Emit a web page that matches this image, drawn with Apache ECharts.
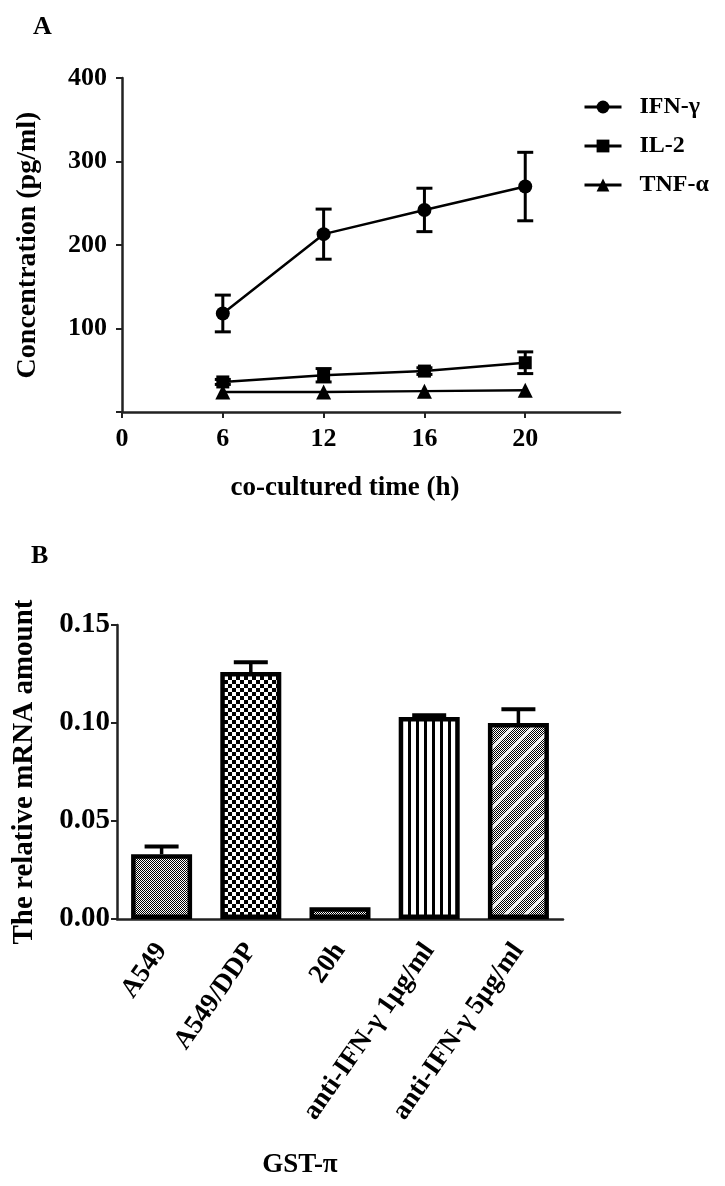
<!DOCTYPE html>
<html>
<head>
<meta charset="utf-8">
<script src="https://cdn.jsdelivr.net/npm/echarts@6/dist/echarts.min.js"></script>
<style>html,body{margin:0;padding:0;background:#fff;}#chart{width:725px;height:1186px;}</style>
</head>
<body>
<div id="chart"></div>
<script>
// ---- Panel A data ----
const timeTickLabels = ['0', '6', '12', '16', '20'];
const timePoints = ['6', '12', '16', '20'];
const ifnMean = [118, 213, 242, 270];
const ifnErr = [22, 30, 26, 41];
const il2Mean = [36, 44, 49, 59];
const il2Err = [3, 8, 4, 13];
const tnfMean = [24, 24, 25, 26];
const tnfErr = [0, 0, 0, 0];
const concTicks = [0, 100, 200, 300, 400];

// ---- Panel B data ----
const groups = ['A549', 'A549/DDP', '20h', 'anti-IFN-\u03b3 1\u03bcg/ml', 'anti-IFN-\u03b3 5\u03bcg/ml'];
const mrnaMean = [0.033, 0.126, 0.006, 0.103, 0.100];
const mrnaErr = [0.004, 0.005, 0.000, 0.001, 0.007];

const FONT = '"Liberation Serif", "Times New Roman", serif';

function makePattern(w, h, draw) {
  const c = document.createElement('canvas');
  c.width = w; c.height = h;
  const ctx = c.getContext('2d');
  ctx.fillStyle = '#fff';
  ctx.fillRect(0, 0, w, h);
  ctx.fillStyle = '#000';
  draw(ctx);
  return { image: c, repeat: 'repeat' };
}
const fineChecker = makePattern(2, 2, ctx => { ctx.fillRect(0, 0, 1, 1); ctx.fillRect(1, 1, 1, 1); });
const bigChecker = makePattern(8, 8, ctx => { ctx.fillRect(0, 0, 4, 4); ctx.fillRect(4, 4, 4, 4); });
const vStripes = makePattern(8, 8, ctx => { ctx.fillRect(0, 0, 3, 8); });
const diagHatch = makePattern(20, 20, ctx => {
  for (let y = 0; y < 20; y++) for (let x = 0; x < 20; x++) if ((x + y) % 2 === 0) ctx.fillRect(x, y, 1, 1);
  ctx.strokeStyle = '#fff'; ctx.lineWidth = 2;
  ctx.beginPath(); ctx.moveTo(-2, 22); ctx.lineTo(22, -2); ctx.stroke();
  ctx.beginPath(); ctx.moveTo(-22, 22); ctx.lineTo(2, -2); ctx.stroke();
  ctx.beginPath(); ctx.moveTo(18, 22); ctx.lineTo(42, -2); ctx.stroke();
});
const barPatterns = [fineChecker, bigChecker, fineChecker, vStripes, diagHatch];

const xIdx = t => timeTickLabels.indexOf(t);
const linePts = arr => timePoints.map((t, i) => [xIdx(t), arr[i]]);
const errPts = (m, e) => timePoints.map((t, i) => [xIdx(t), m[i], e[i]]);

function errBarA(params, api) {
  const e = api.value(2);
  if (!e) return null;
  const x = api.value(0), m = api.value(1);
  const top = api.coord([x, m + e]);
  const bot = api.coord([x, m - e]);
  const hw = 8;
  const st = { stroke: '#000', lineWidth: 3 };
  return { type: 'group', children: [
    { type: 'line', shape: { x1: top[0], y1: top[1], x2: bot[0], y2: bot[1] }, style: st },
    { type: 'line', shape: { x1: top[0] - hw, y1: top[1], x2: top[0] + hw, y2: top[1] }, style: st },
    { type: 'line', shape: { x1: bot[0] - hw, y1: bot[1], x2: bot[0] + hw, y2: bot[1] }, style: st }
  ]};
}
function errBarB(params, api) {
  const e = api.value(2);
  if (!e) return null;
  const x = api.value(0), m = api.value(1);
  const top = api.coord([x, m + e]);
  const base = api.coord([x, m]);
  const hw = 17;
  return { type: 'group', children: [
    { type: 'line', shape: { x1: top[0], y1: top[1], x2: base[0], y2: base[1] }, style: { stroke: '#000', lineWidth: 3.5 } },
    { type: 'line', shape: { x1: top[0] - hw, y1: top[1], x2: top[0] + hw, y2: top[1] }, style: { stroke: '#000', lineWidth: 4 } }
  ]};
}

const axisLine = { lineStyle: { color: '#222', width: 2.5 } };
const axisTick = { length: 6, lineStyle: { color: '#222', width: 2 } };

const lineSeries = (name, sym, size, data) => ({
  name, type: 'line', xAxisIndex: 0, yAxisIndex: 0, data,
  symbol: sym, symbolSize: size, showSymbol: true,
  lineStyle: { color: '#000', width: 2.5 }, itemStyle: { color: '#000' }, z: 3
});

const chart = echarts.init(document.getElementById('chart'), null, { renderer: 'canvas' });
chart.setOption({
  animation: false,
  backgroundColor: '#fff',
  textStyle: { fontFamily: FONT, color: '#000' },
  title: [
    { text: 'A', left: 28, top: 9, textStyle: { fontFamily: FONT, fontSize: 26, fontWeight: 'bold', color: '#000' } },
    { text: 'B', left: 26, top: 538, textStyle: { fontFamily: FONT, fontSize: 26, fontWeight: 'bold', color: '#000' } }
  ],
  legend: {
    orient: 'vertical', left: 578, top: 90, itemWidth: 37, itemHeight: 16, itemGap: 15,
    lineStyle: { width: 3 },
    textStyle: { fontFamily: FONT, fontSize: 24, fontWeight: 'bold', color: '#000', padding: [0, 0, 0, 13] },
    data: ['IFN-\u03b3', 'IL-2', 'TNF-\u03b1']
  },
  grid: [
    { left: 122, right: 105, top: 78, bottom: 774 },
    { left: 117, right: 162, top: 625, bottom: 267 }
  ],
  xAxis: [
    {
      type: 'value', gridIndex: 0, min: 0, max: 4.94, interval: 1,
      axisLine, axisTick: Object.assign({ customValues: timeTickLabels.map((t, i) => i) }, axisTick),
      splitLine: { show: false },
      axisLabel: { customValues: timeTickLabels.map((t, i) => i), formatter: v => timeTickLabels[v] || '',
        fontFamily: FONT, fontSize: 26, fontWeight: 'bold', color: '#000', margin: 14 },
      name: 'co-cultured time (h)', nameLocation: 'middle', nameGap: 63,
      nameTextStyle: { fontFamily: FONT, fontSize: 27, fontWeight: 'bold', color: '#000', padding: [0, 52, 0, 0] }
    },
    {
      type: 'category', gridIndex: 1, data: groups,
      axisLine, axisTick: Object.assign({ alignWithLabel: true }, { length: 8, lineStyle: { color: '#222', width: 2 } }),
      axisLabel: { rotate: 55, interval: 0, fontFamily: FONT, fontSize: 27, fontWeight: 'bold', color: '#000', margin: 27 },
      name: 'GST-\u03c0', nameLocation: 'middle', nameGap: 233,
      nameTextStyle: { fontFamily: FONT, fontSize: 27, fontWeight: 'bold', color: '#000', padding: [0, 80, 0, 0] }
    }
  ],
  yAxis: [
    {
      type: 'value', gridIndex: 0, min: concTicks[0], max: concTicks[concTicks.length - 1], interval: 100,
      axisLine: Object.assign({ show: true }, axisLine), axisTick: Object.assign({ show: true }, axisTick),
      splitLine: { show: false },
      axisLabel: { formatter: v => (v === 0 ? '' : String(v)), fontFamily: FONT, fontSize: 26, fontWeight: 'bold', color: '#000', margin: 15 },
      name: 'Concentration (pg/ml)', nameLocation: 'middle', nameRotate: 90, nameGap: 80,
      nameTextStyle: { fontFamily: FONT, fontSize: 28, fontWeight: 'bold', color: '#000' }
    },
    {
      type: 'value', gridIndex: 1, min: 0, max: 0.15, interval: 0.05,
      axisLine: Object.assign({ show: true }, axisLine), axisTick: Object.assign({ show: true }, axisTick),
      splitLine: { show: false },
      axisLabel: { formatter: v => v.toFixed(2), fontFamily: FONT, fontSize: 29, fontWeight: 'bold', color: '#000', margin: 7 },
      name: 'The relative mRNA amount', nameLocation: 'middle', nameRotate: 90, nameGap: 78,
      nameTextStyle: { fontFamily: FONT, fontSize: 29, fontWeight: 'bold', color: '#000' }
    }
  ],
  series: [
    lineSeries('IFN-\u03b3', 'circle', 14, linePts(ifnMean)),
    lineSeries('IL-2', 'rect', 13, linePts(il2Mean)),
    lineSeries('TNF-\u03b1', 'triangle', 15, linePts(tnfMean)),
    { type: 'custom', xAxisIndex: 0, yAxisIndex: 0, renderItem: errBarA, data: errPts(ifnMean, ifnErr), z: 2 },
    { type: 'custom', xAxisIndex: 0, yAxisIndex: 0, renderItem: errBarA, data: errPts(il2Mean, il2Err), z: 2 },
    { type: 'custom', xAxisIndex: 0, yAxisIndex: 0, renderItem: errBarA, data: errPts(tnfMean, tnfErr), z: 2 },
    {
      type: 'bar', xAxisIndex: 1, yAxisIndex: 1, barWidth: 61,
      data: mrnaMean.map((v, i) => ({ value: v, itemStyle: { color: barPatterns[i], borderColor: '#000', borderWidth: 4.5 } })),
      z: 3
    },
    { type: 'custom', xAxisIndex: 1, yAxisIndex: 1, renderItem: errBarB,
      data: groups.map((g, i) => [i, mrnaMean[i], mrnaErr[i]]), z: 2 }
  ]
});
</script>
</body>
</html>
